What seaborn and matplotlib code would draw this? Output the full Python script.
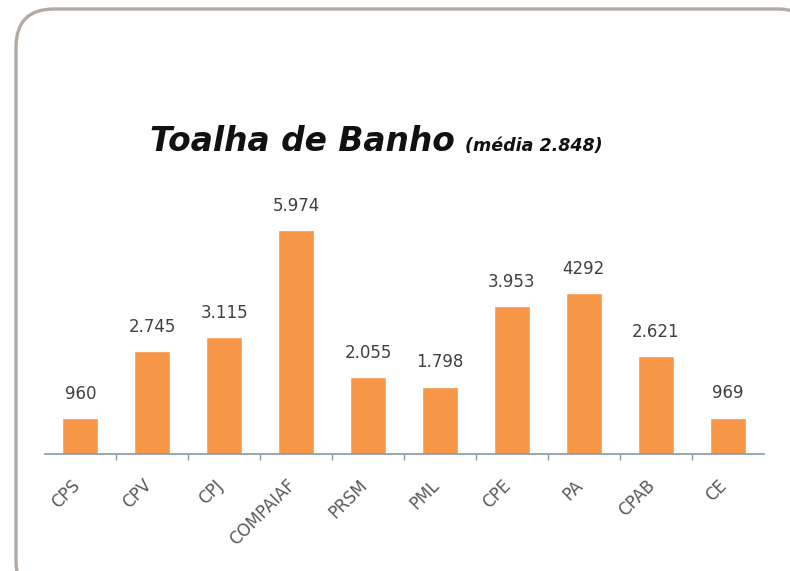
import numpy as np
import pandas as pd
import matplotlib.pyplot as plt
import matplotlib.transforms as mtransforms
import seaborn as sns
from matplotlib.patches import FancyBboxPatch
from matplotlib.ticker import FixedLocator

categories = ['CPS', 'CPV', 'CPJ', 'COMPAIAF', 'PRSM', 'PML', 'CPE', 'PA', 'CPAB', 'CE']
values = [960, 2745, 3115, 5974, 2055, 1798, 3953, 4292, 2621, 969]
value_labels = ['960', '2.745', '3.115', '5.974', '2.055', '1.798', '3.953', '4292', '2.621', '969']

sns.set_style("white")
plt.rcParams['font.family'] = ['DejaVu Sans']

df = pd.DataFrame({'cat': categories, 'val': values})

fig = plt.figure(figsize=(7.9, 5.71), dpi=100)

# rounded frame behind everything, drawn in pixel coords
bg = fig.add_axes([0, 0, 1, 1], zorder=-1)
bg.set_xlim(0, 790)
bg.set_ylim(571, 0)
bg.axis('off')
frame = FancyBboxPatch((16, 9), 800, 590, boxstyle="round,pad=0,rounding_size=38",
                       fc='white', ec='#b3aaa3', lw=2.4)
bg.add_patch(frame)

ax = fig.add_axes([44.5 / 790, 117 / 571, 719 / 790, 262 / 571])
ax.patch.set_alpha(0)
sns.barplot(data=df, x='cat', y='val', color='#f79646', saturation=1, width=0.5, ax=ax)
ax.set_xlim(-0.5, 9.5)
ax.set_ylim(0, 7000)

for i, (v, lab) in enumerate(zip(values, value_labels)):
    ax.annotate(lab, (i, v), xytext=(0, 11), textcoords='offset points',
                ha='center', va='bottom', fontsize=12, color='#404040')

for s in ['top', 'right', 'left']:
    ax.spines[s].set_visible(False)
ax.spines['bottom'].set_color('#8497b0')
ax.spines['bottom'].set_linewidth(1.2)
ax.set_yticks([])
ax.set_xlabel('')
ax.set_ylabel('')
ax.xaxis.set_minor_locator(FixedLocator(np.arange(0.5, 9, 1)))
ax.tick_params(axis='x', which='major', length=0, pad=16)
ax.tick_params(axis='x', which='minor', bottom=True, length=4, width=1,
               color='#8497b0', direction='out')
shift = mtransforms.ScaledTranslation(-7 / 72, 0, fig.dpi_scale_trans)
for lbl in ax.get_xticklabels():
    lbl.set_rotation(45)
    lbl.set_ha('right')
    lbl.set_rotation_mode('anchor')
    lbl.set_fontsize(12)
    lbl.set_color('#595959')
    lbl.set_transform(lbl.get_transform() + shift)

fig.text(150 / 790, 1 - 151 / 571, 'Toalha de Banho', fontsize=23.7, fontweight='bold',
         fontstyle='italic', color='#111111', ha='left', va='baseline')
fig.text(465 / 790, 1 - 151 / 571, '(média 2.848)', fontsize=12.6, fontweight='bold',
         fontstyle='italic', color='#111111', ha='left', va='baseline')

fig.savefig('out.png', dpi=100)
